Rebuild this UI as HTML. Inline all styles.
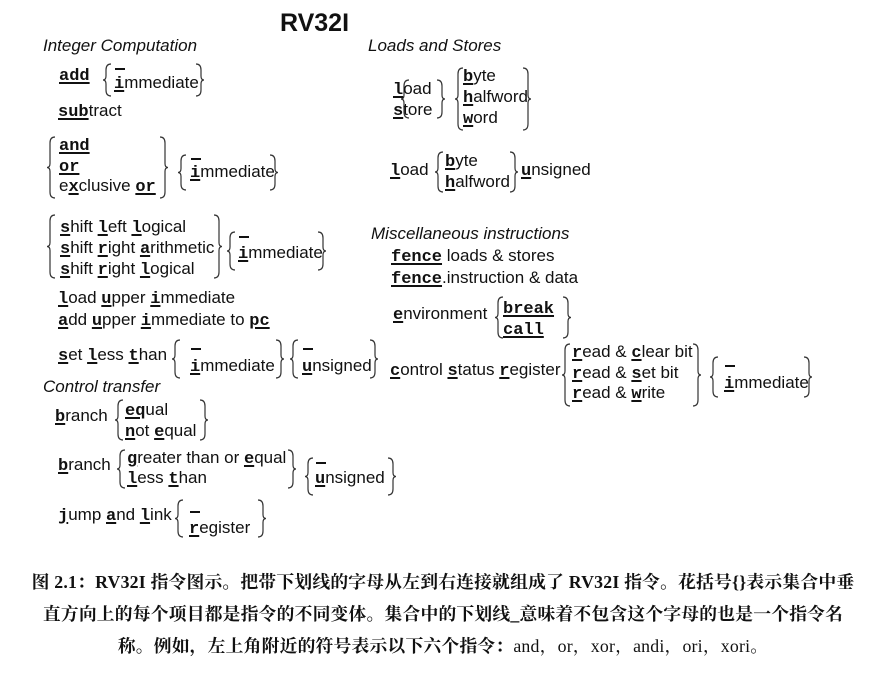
<!DOCTYPE html>
<html><head><meta charset="utf-8">
<style>
html,body{margin:0;padding:0;background:#fff;}
body{width:886px;height:680px;position:relative;overflow:hidden;font-family:"Liberation Sans",sans-serif;color:#111;}
.t{position:absolute;font-size:17px;line-height:20px;white-space:nowrap;}
.i{font-style:italic;}
.k{font-family:"Liberation Mono",monospace;font-weight:bold;text-decoration:underline;text-decoration-thickness:2px;text-underline-offset:2px;}
.bar{position:absolute;width:10px;height:2px;background:#111;}
#svg{position:absolute;left:0;top:0;}
.cap{position:absolute;left:0;width:886px;text-align:center;font-family:"Liberation Serif","Noto Serif CJK SC",serif;font-weight:bold;font-size:17.8px;letter-spacing:0.2px;line-height:22px;white-space:nowrap;}
</style></head><body>
<svg id="svg" width="886" height="680"></svg>
<div class="t" style="left:280px;top:8px;font-size:25px;line-height:30px;font-weight:bold;">RV32I</div>

<div class="t i" style="left:43px;top:36px;">Integer Computation</div>
<div class="t" style="left:59px;top:65px;"><span class="k">add</span></div>
<div class="bar" style="left:115px;top:68px;"></div>
<div class="t" style="left:114px;top:73px;"><span class="k">i</span>mmediate</div>
<div class="t" style="left:58px;top:101px;"><span class="k">sub</span>tract</div>
<div class="t" style="left:59px;top:135px;"><span class="k">and</span></div>
<div class="t" style="left:59px;top:156px;"><span class="k">or</span></div>
<div class="t" style="left:59px;top:176px;">e<span class="k">x</span>clusive <span class="k">or</span></div>
<div class="bar" style="left:191px;top:158px;"></div>
<div class="t" style="left:190px;top:162px;"><span class="k">i</span>mmediate</div>
<div class="t" style="left:60px;top:217px;"><span class="k">s</span>hift <span class="k">l</span>eft <span class="k">l</span>ogical</div>
<div class="t" style="left:60px;top:238px;"><span class="k">s</span>hift <span class="k">r</span>ight <span class="k">a</span>rithmetic</div>
<div class="t" style="left:60px;top:259px;"><span class="k">s</span>hift <span class="k">r</span>ight <span class="k">l</span>ogical</div>
<div class="bar" style="left:239px;top:236px;"></div>
<div class="t" style="left:238px;top:243px;"><span class="k">i</span>mmediate</div>
<div class="t" style="left:58px;top:288px;"><span class="k">l</span>oad <span class="k">u</span>pper <span class="k">i</span>mmediate</div>
<div class="t" style="left:58px;top:310px;"><span class="k">a</span>dd <span class="k">u</span>pper <span class="k">i</span>mmediate to <span class="k">pc</span></div>
<div class="t" style="left:58px;top:345px;"><span class="k">s</span>et <span class="k">l</span>ess <span class="k">t</span>han</div>
<div class="bar" style="left:191px;top:348px;"></div>
<div class="t" style="left:190px;top:356px;"><span class="k">i</span>mmediate</div>
<div class="bar" style="left:303px;top:348px;"></div>
<div class="t" style="left:302px;top:356px;"><span class="k">u</span>nsigned</div>
<div class="t i" style="left:43px;top:377px;">Control transfer</div>
<div class="t" style="left:55px;top:406px;"><span class="k">b</span>ranch</div>
<div class="t" style="left:125px;top:400px;"><span class="k">eq</span>ual</div>
<div class="t" style="left:125px;top:421px;"><span class="k">n</span>ot <span class="k">e</span>qual</div>
<div class="t" style="left:58px;top:455px;"><span class="k">b</span>ranch</div>
<div class="t" style="left:127px;top:448px;"><span class="k">g</span>reater than or <span class="k">e</span>qual</div>
<div class="t" style="left:127px;top:468px;"><span class="k">l</span>ess <span class="k">t</span>han</div>
<div class="bar" style="left:316px;top:462px;"></div>
<div class="t" style="left:315px;top:468px;"><span class="k">u</span>nsigned</div>
<div class="t" style="left:58px;top:505px;"><span class="k">j</span>ump <span class="k">a</span>nd <span class="k">l</span>ink</div>
<div class="bar" style="left:190px;top:511px;"></div>
<div class="t" style="left:189px;top:518px;"><span class="k">r</span>egister</div>

<div class="t i" style="left:368px;top:36px;">Loads and Stores</div>
<div class="t" style="left:393px;top:79px;"><span class="k">l</span>oad</div>
<div class="t" style="left:393px;top:100px;"><span class="k">s</span>tore</div>
<div class="t" style="left:463px;top:66px;"><span class="k">b</span>yte</div>
<div class="t" style="left:463px;top:87px;"><span class="k">h</span>alfword</div>
<div class="t" style="left:463px;top:108px;"><span class="k">w</span>ord</div>
<div class="t" style="left:390px;top:160px;"><span class="k">l</span>oad</div>
<div class="t" style="left:445px;top:151px;"><span class="k">b</span>yte</div>
<div class="t" style="left:445px;top:172px;"><span class="k">h</span>alfword</div>
<div class="t" style="left:521px;top:160px;"><span class="k">u</span>nsigned</div>
<div class="t i" style="left:371px;top:224px;">Miscellaneous instructions</div>
<div class="t" style="left:391px;top:246px;"><span class="k">fence</span> loads &amp; stores</div>
<div class="t" style="left:391px;top:268px;"><span class="k">fence</span>.instruction &amp; data</div>
<div class="t" style="left:393px;top:304px;"><span class="k">e</span>nvironment</div>
<div class="t" style="left:503px;top:298px;"><span class="k">break</span></div>
<div class="t" style="left:503px;top:319px;"><span class="k">call</span></div>
<div class="t" style="left:390px;top:360px;"><span class="k">c</span>ontrol <span class="k">s</span>tatus <span class="k">r</span>egister</div>
<div class="t" style="left:572px;top:342px;"><span class="k">r</span>ead &amp; <span class="k">c</span>lear bit</div>
<div class="t" style="left:572px;top:363px;"><span class="k">r</span>ead &amp; <span class="k">s</span>et bit</div>
<div class="t" style="left:572px;top:383px;"><span class="k">r</span>ead &amp; <span class="k">w</span>rite</div>
<div class="bar" style="left:725px;top:365px;"></div>
<div class="t" style="left:724px;top:373px;"><span class="k">i</span>mmediate</div>

<div class="cap" style="top:571px;">图 2.1：RV32I 指令图示。把带下划线的字母从左到右连接就组成了 RV32I 指令。花括号{}表示集合中垂</div>
<div class="cap" style="top:603px;">直方向上的每个项目都是指令的不同变体。集合中的下划线_意味着不包含这个字母的也是一个指令名</div>
<div class="cap" style="top:635px;">称。例如，左上角附近的符号表示以下六个指令：<span style="font-weight:normal">and，or，xor，andi，ori，xori。</span></div>

<script>
var B=[
['L',103,64,96],['R',196,64,96],
['L',47,137,198],['R',160,137,198],
['L',178,155,190],['R',270,155,190],
['L',47,215,278],['R',214,215,278],
['L',227,232,270],['R',318,232,270],
['L',172,340,378],['R',276,340,378],
['L',290,340,378],['R',370,340,378],
['L',115,400,440],['R',200,400,440],
['L',117,450,488],['R',288,450,488],
['L',305,458,495],['R',388,458,495],
['L',175,500,537],['R',258,500,537],
['L',401,80,118],['R',437,80,118],
['L',455,68,130],['R',523,68,130],
['L',435,152,192],['R',510,152,192],
['L',495,297,338],['R',563,297,338],
['L',562,344,406],['R',693,344,406],
['L',710,357,397],['R',804,357,397]
];
var s='';
B.forEach(function(b){
 var x=b[1],y1=b[2],y2=b[3],m=(y1+y2)/2,d;
 if(b[0]=='L'){
  d='M'+(x+8)+' '+y1+' Q'+(x+3)+' '+y1+' '+(x+3)+' '+(y1+6)+' V'+(m-4)+' Q'+(x+3)+' '+m+' '+x+' '+m+' Q'+(x+3)+' '+m+' '+(x+3)+' '+(m+4)+' V'+(y2-6)+' Q'+(x+3)+' '+y2+' '+(x+8)+' '+y2;
 } else {
  d='M'+x+' '+y1+' Q'+(x+5)+' '+y1+' '+(x+5)+' '+(y1+6)+' V'+(m-4)+' Q'+(x+5)+' '+m+' '+(x+8)+' '+m+' Q'+(x+5)+' '+m+' '+(x+5)+' '+(m+4)+' V'+(y2-6)+' Q'+(x+5)+' '+y2+' '+x+' '+y2;
 }
 s+='<path d="'+d+'" fill="none" stroke="#333" stroke-width="1.2"/>';
});
document.getElementById('svg').innerHTML=s;
</script>
</body></html>
